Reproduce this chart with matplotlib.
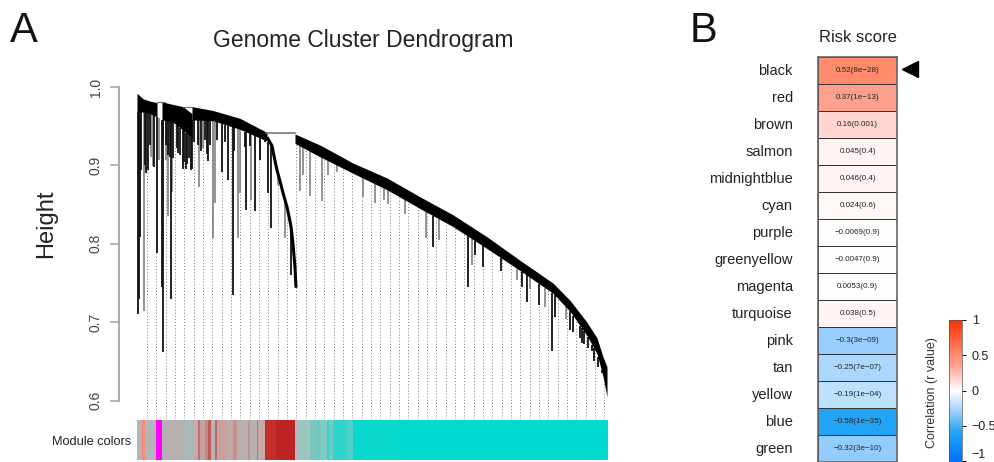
import numpy as np
import matplotlib
matplotlib.use("Agg")
import matplotlib.pyplot as plt
from matplotlib.colors import LinearSegmentedColormap

plt.rcParams['font.family'] = ['Liberation Sans', 'DejaVu Sans']

W, H = 995, 462

# panel A, dendrogram bands (gene position, branch top and bottom height)
band1_x = [0, 6, 13, 20]
band1_top = [0.992, 0.985, 0.982, 0.980]
band1_bot = [0.968, 0.968, 0.966, 0.962]
band2_x = [25, 35, 46, 55]
band2_top = [0.981, 0.978, 0.975, 0.966]
band2_bot = [0.958, 0.956, 0.945, 0.935]
band3_x = [55, 76, 103, 130]
band3_top = [0.975, 0.970, 0.960, 0.942]
band3_bot = [0.958, 0.957, 0.946, 0.931]
band4_x = [158, 183, 216, 250, 283, 316, 350, 383, 416, 433, 450, 460, 466, 470]
band4_top = [0.940, 0.926, 0.903, 0.884, 0.860, 0.837, 0.809, 0.779, 0.750, 0.728, 0.700, 0.680, 0.656, 0.643]
band4_bot = [0.928, 0.911, 0.890, 0.869, 0.845, 0.822, 0.794, 0.766, 0.737, 0.714, 0.683, 0.660, 0.631, 0.605]

# the curved sub branch between the two big clusters
tail_x = [130, 135, 137, 140, 143, 146, 150, 152, 154, 156, 158, 159]
tail_h = [0.936, 0.925, 0.912, 0.894, 0.880, 0.865, 0.847, 0.835, 0.822, 0.800, 0.770, 0.744]

dark_x = [1, 2, 3, 4, 9, 11, 20, 25, 25.5, 34, 33, 41, 46, 49, 54, 71, 85, 91, 96, 109, 118, 131, 134,
          154, 296, 331, 338, 346, 364, 385, 390, 402, 415, 418, 433, 436, 443, 445, 447, 451,
          455, 457, 461, 465,
          1.5, 8, 13, 17, 26, 29, 31, 36, 40, 43, 47, 50, 52, 55, 57, 61, 64, 68, 70, 73, 80, 88, 96.5,
          108, 113, 123, 128]
dark_bot = [0.711, 0.730, 0.809, 0.894, 0.890, 0.894, 0.788, 0.745, 0.662, 0.730, 0.911, 0.916, 0.895,
            0.895, 0.894, 0.905, 0.892, 0.881, 0.735, 0.843, 0.842, 0.865, 0.820,
            0.760, 0.796, 0.745, 0.786, 0.771, 0.765, 0.745, 0.726, 0.722, 0.664, 0.707,
            0.690, 0.687, 0.680, 0.674, 0.672, 0.667, 0.664, 0.651, 0.643, 0.639,
            0.900, 0.900, 0.926, 0.898, 0.933, 0.926, 0.913, 0.910, 0.922, 0.913, 0.904, 0.902, 0.910,
            0.896, 0.930, 0.926, 0.918, 0.933, 0.914, 0.926, 0.933, 0.930, 0.918,
            0.924, 0.925, 0.907, 0.930]
gray_x = [7, 14, 16, 22, 29, 31, 35, 62, 66, 76, 78, 101, 103, 114, 123, 141, 148, 163, 166, 173,
          185, 191, 200, 226, 238, 247, 251, 268, 289, 302, 335, 380, 393, 408, 429]
gray_bot = [0.715, 0.911, 0.899, 0.907, 0.907, 0.835, 0.866, 0.873, 0.922, 0.807, 0.852, 0.807, 0.865,
            0.856, 0.907, 0.875, 0.807, 0.867, 0.888, 0.861,
            0.854, 0.888, 0.892, 0.860, 0.852, 0.856, 0.851, 0.838, 0.807, 0.805, 0.773, 0.754,
            0.742, 0.719, 0.704]

# module colour strip, (start position of each stripe, colour)
module_start = [0, 5, 8, 19, 25, 48, 51, 56, 61, 63, 68, 71, 74, 78, 80, 90, 96, 100, 111, 113, 120, 121,
                128, 139, 158, 163, 173, 180, 183, 190, 192, 196, 210, 216, 260]
module_color = ['#b5b5b5', '#f98a78', '#b5b5b5', '#ff00ff', '#b8b0b0', '#98c0c0', '#aab8b8', '#c9a8a8',
                '#c07070', '#c8a0a0', '#c08888', '#c05858', '#b8b4b4', '#c06868', '#c8a0a0', '#c4a8a8',
                '#c49090', '#b8b0b0', '#c49090', '#b8b0b0', '#c07070', '#c8a8a8',
                '#c03028', '#bf2222', '#aac0c0', '#9cc6c0', '#78c8c0', '#6cc8c0', '#80ccc4', '#30d4cc',
                '#70ccc8', '#30d4cc', '#50d0c8', '#08d8cc', '#00d9cf']

# panel B
modules = ['black', 'red', 'brown', 'salmon', 'midnightblue', 'cyan', 'purple', 'greenyellow',
           'magenta', 'turquoise', 'pink', 'tan', 'yellow', 'blue', 'green']
r_values = [0.52, 0.37, 0.16, 0.045, 0.046, 0.024, -0.0069, -0.0047, 0.0053, 0.038,
            -0.3, -0.25, -0.19, -0.58, -0.32]
p_labels = ['8e\u221228', '1e\u221213', '0.001', '0.4', '0.4', '0.6', '0.9', '0.9', '0.9', '0.5',
            '3e\u221209', '7e\u221207', '1e\u221204', '1e\u221235', '3e\u221210']
cbar_ticks = [-1, -0.5, 0, 0.5, 1]


def box(x0, y0, x1, y1):
    # pixel box, y from the top, to figure fractions
    return [x0 / W, 1 - y1 / H, (x1 - x0) / W, (y1 - y0) / H]


fig = plt.figure(figsize=(W / 100, H / 100), dpi=100)

# ---- dendrogram
ax = fig.add_axes(box(137, 60, 608, 419))
ax.set_xlim(0, 471)
ax.set_ylim(0.5767, 1.0344)

env_x = band1_x + band2_x + band3_x + tail_x[1:-2] + band4_x
env_bot = band1_bot + band2_bot + band3_bot + tail_h[1:-2] + band4_bot
order = np.argsort(env_x)
env_x = np.array(env_x)[order]
env_bot = np.array(env_bot)[order]

guide_x = np.arange(10, 471, 9.33)
ax.vlines(guide_x, 0.5767, np.interp(guide_x, env_x, env_bot), color='#777777',
          lw=0.7, linestyles=(0, (1, 2.2)), zorder=1)

for bx, bt, bb in [(band1_x, band1_top, band1_bot), (band2_x, band2_top, band2_bot),
                   (band3_x, band3_top, band3_bot), (band4_x, band4_top, band4_bot)]:
    ax.fill_between(bx, bb, bt, color='black', lw=0, zorder=3)

ax.vlines(gray_x, gray_bot, np.interp(gray_x, env_x, env_bot), color='#777777', lw=1.1, zorder=2)
ax.vlines(dark_x, dark_bot, np.interp(dark_x, env_x, env_bot), color='#111111', lw=1.3, zorder=2)
ax.plot(tail_x, tail_h, color='black', lw=2.2, zorder=3, solid_capstyle='butt')
# links joining the clusters
ax.plot([129, 158], [0.941, 0.941], color='#777777', lw=1.2, zorder=3)
ax.plot([46, 55], [0.975, 0.975], color='#777777', lw=0.9, zorder=3)
ax.plot([20, 28], [0.981, 0.981], color='#777777', lw=0.9, zorder=3)

for s in ['top', 'right', 'bottom']:
    ax.spines[s].set_visible(False)
ax.patch.set_visible(False)
ax.spines['left'].set_bounds(0.6, 1.0)
ax.spines['left'].set_position(('outward', 13))
ax.spines['left'].set_color('#aaaaaa')
ax.spines['left'].set_linewidth(1.4)
ax.set_xticks([])
ax.set_yticks([0.6, 0.7, 0.8, 0.9, 1.0])
ax.set_yticklabels(['0.6', '0.7', '0.8', '0.9', '1.0'], rotation=90, va='center', fontsize=10, color='#444444')
ax.tick_params(axis='y', length=6.5, width=1.2, color='#aaaaaa', pad=5)

# ---- module strip
strip = fig.add_axes(box(137, 420, 608, 460))
strip.set_xlim(0, 471)
strip.set_ylim(0, 1)
ends = module_start[1:] + [471]
strip.barh(0.5, np.array(ends) - np.array(module_start), left=module_start, height=1,
           color=module_color, lw=0)
strip.axis('off')

# ---- heatmap
hm = fig.add_axes(box(818.5, 57, 897, 462))
colors = [(0.0, '#0070ff'), (0.21, '#22a5f5'), (0.35, '#99ceff'), (0.5, '#ffffff'),
          (0.685, '#ffa090'), (0.76, '#ff8a6c'), (1.0, '#ff3000')]
cmap = LinearSegmentedColormap.from_list('corr', colors)
hm.pcolormesh(np.array(r_values).reshape(-1, 1), cmap=cmap, vmin=-1, vmax=1,
              edgecolors='#333333', linewidth=0.6)
hm.set_ylim(len(modules), 0)
hm.set_xticks([])
hm.set_yticks(np.arange(len(modules)) + 0.45)
hm.set_yticklabels(modules, fontsize=10.5, color='#222222')
hm.tick_params(axis='y', length=0, pad=18.5)
for s in hm.spines.values():
    s.set_color('#666666')
    s.set_linewidth(1.2)
for i, (r, p) in enumerate(zip(r_values, p_labels)):
    txt = f'{r:g}'.replace('-', '\u2212')
    hm.text(0.5, i + 0.5, f'{txt}({p})', ha='center', va='center', fontsize=5.8, color='#222222')
hm.set_title('Risk score', fontsize=12, color='#222222', pad=11)
hm.plot([1.16], [0.45], marker='<', ms=12, color='black', clip_on=False, ls='none')
hm.set_xlim(0, 1)

# ---- colour bar
cb = fig.add_axes(box(949, 320, 962, 462))
grad = np.linspace(-1, 1, 256).reshape(-1, 1)
cb.imshow(grad, cmap=cmap, vmin=-1, vmax=1, aspect='auto', origin='lower', extent=[0, 1, -1.01, 1.0])
cb.set_xticks([])
cb.yaxis.tick_right()
cb.set_yticks(cbar_ticks)
cb.set_yticklabels(['\u22121', '\u22120.5', '0', '0.5', '1'], fontsize=9, color='#222222', ha='left')
cb.get_yticklabels()[0].set_va('bottom')
cb.tick_params(axis='y', length=3, width=0.7, pad=4)
for s in cb.spines.values():
    s.set_linewidth(0.5)
    s.set_color('#555555')

fig.text(10 / W, 1 - 31 / H, 'A', fontsize=30, va='center', ha='left', color='#111111')
fig.text(690 / W, 1 - 31 / H, 'B', fontsize=30, va='center', ha='left', color='#111111')
fig.text(363 / W, 1 - 40 / H, 'Genome Cluster Dendrogram', fontsize=16.5, ha='center', va='center', color='#222222')
fig.text(46 / W, 1 - 224 / H, 'Height', fontsize=17, rotation=90, ha='center', va='center', color='#222222')
fig.text(131 / W, 1 - 442 / H, 'Module colors', fontsize=9.2, ha='right', va='center', color='#222222')
fig.text(932 / W, 1 - 393 / H, 'Correlation (r value)', fontsize=9, rotation=90, ha='center', va='center',
         color='#333333')

fig.savefig('out.png', dpi=100)
